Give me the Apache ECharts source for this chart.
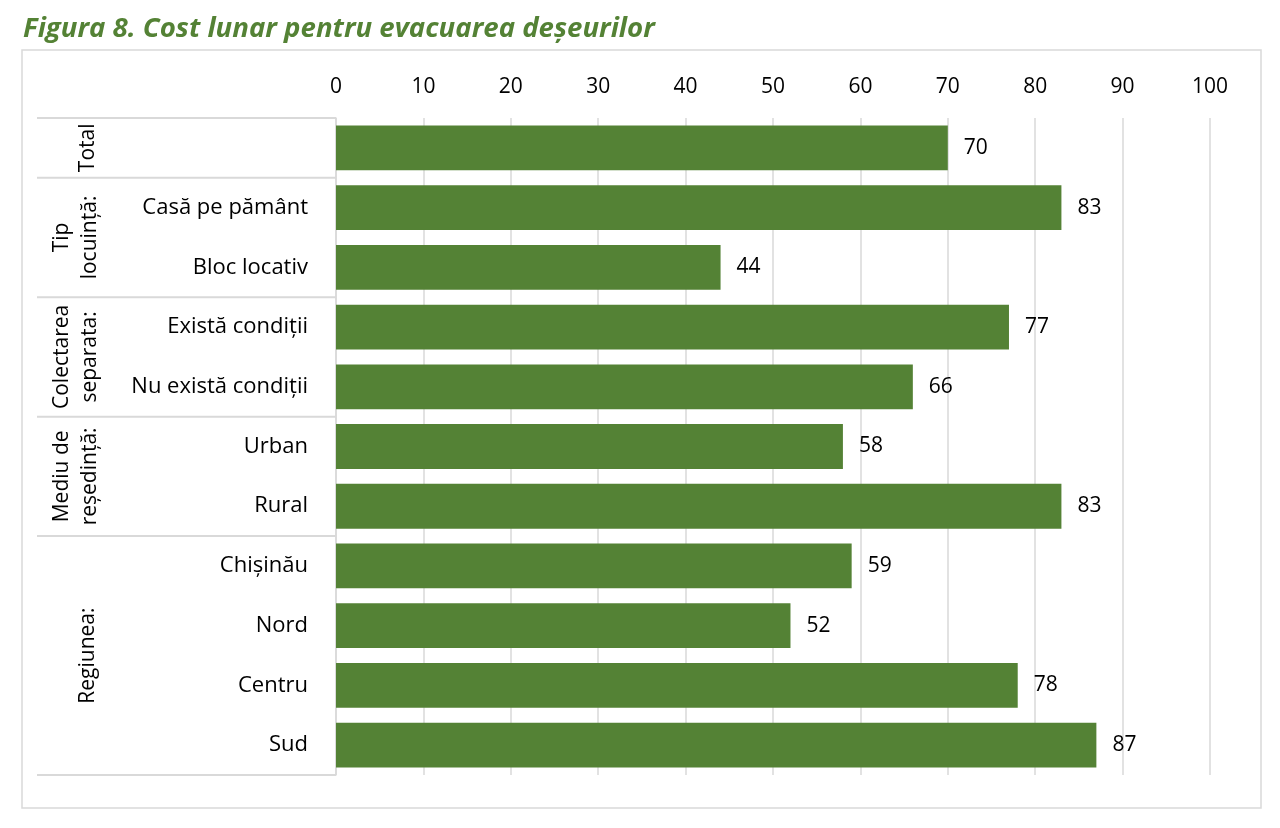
<!DOCTYPE html>
<html>
<head>
<meta charset="utf-8">
<script src="https://cdn.jsdelivr.net/npm/echarts@6/dist/echarts.min.js"></script>
<style>
html,body{margin:0;padding:0;background:#fff;}
#c{width:1280px;height:828px;}
</style>
</head>
<body>
<div id="c"></div>
<script>
const titleText = 'Figura 8. Cost lunar pentru evacuarea deșeurilor';
const categories = ['', 'Casă pe pământ', 'Bloc locativ', 'Există condiții', 'Nu există condiții', 'Urban', 'Rural', 'Chișinău', 'Nord', 'Centru', 'Sud'];
const values = [70, 83, 44, 77, 66, 58, 83, 59, 52, 78, 87];
const groupNames = ['Total', 'Tip\nlocuință:', 'Colectarea\nseparata:', 'Mediu de\nreședință:', 'Regiunea:'];
const groupStart = [0, 1, 3, 5, 7];
const groupEnd = [0, 2, 4, 6, 10];
const xTicks = [0, 100, 10];

const FONT = '"Open Sans", "Noto Sans", sans-serif';
const chart = echarts.init(document.getElementById('c'), null, {renderer: 'canvas'});

chart.setOption({
  animation: false,
  backgroundColor: '#fff',
  title: {
    text: titleText,
    left: 18, top: 10,
    textStyle: {fontFamily: FONT, fontStyle: 'italic', fontWeight: 'bold', fontSize: 27.6, color: '#548235'}
  },
  grid: {left: 336, right: 70, top: 118, bottom: 53, containLabel: false},
  xAxis: {
    type: 'value', position: 'top',
    min: xTicks[0], max: xTicks[1], interval: xTicks[2],
    axisLine: {show: false}, axisTick: {show: false},
    axisLabel: {fontFamily: FONT, fontSize: 21, color: '#000', margin: 20},
    splitLine: {show: true, lineStyle: {color: '#d9d9d9', width: 1.5}}
  },
  yAxis: {
    type: 'category', inverse: true, data: categories,
    axisLine: {show: true, lineStyle: {color: '#d9d9d9', width: 1.5}},
    axisTick: {show: false},
    axisLabel: {fontFamily: FONT, fontSize: 22, color: '#000', margin: 28}
  },
  series: [{
    type: 'bar', data: values,
    barCategoryGap: '25%',
    itemStyle: {color: '#548235'},
    label: {show: true, position: 'right', distance: 16, fontFamily: FONT, fontSize: 21, color: '#000'}
  }]
});

// Group separators and group labels positioned from the category axis scale
const c0 = chart.convertToPixel({yAxisIndex: 0}, 0);
const c1 = chart.convertToPixel({yAxisIndex: 0}, 1);
const band = c1 - c0;
const graphics = [];
graphics.push({type: 'rect', shape: {x: 22, y: 50, width: 1239, height: 758}, style: {fill: 'none', stroke: '#d9d9d9', lineWidth: 1.5}, silent: true});
const xLeft = 37, xRight = 336;
for (let g = 0; g < groupNames.length; g++) {
  const top = chart.convertToPixel({yAxisIndex: 0}, groupStart[g]) - band / 2;
  const bot = chart.convertToPixel({yAxisIndex: 0}, groupEnd[g]) + band / 2;
  if (g === 0) graphics.push({type: 'line', shape: {x1: xLeft, y1: top, x2: xRight, y2: top}, style: {stroke: '#d9d9d9', lineWidth: 2}, silent: true});
  graphics.push({type: 'line', shape: {x1: xLeft, y1: bot, x2: xRight, y2: bot}, style: {stroke: '#d9d9d9', lineWidth: 2}, silent: true});
  const twoLine = groupNames[g].indexOf('\n') >= 0;
  graphics.push({
    type: 'text', x: twoLine ? 76 : 88, y: (top + bot) / 2, rotation: Math.PI / 2,
    style: {text: groupNames[g], fontFamily: FONT, fontSize: 21, fill: '#000', align: 'center', verticalAlign: 'middle', lineHeight: 28},
    silent: true
  });
}
chart.setOption({graphic: graphics});
</script>
</body>
</html>
